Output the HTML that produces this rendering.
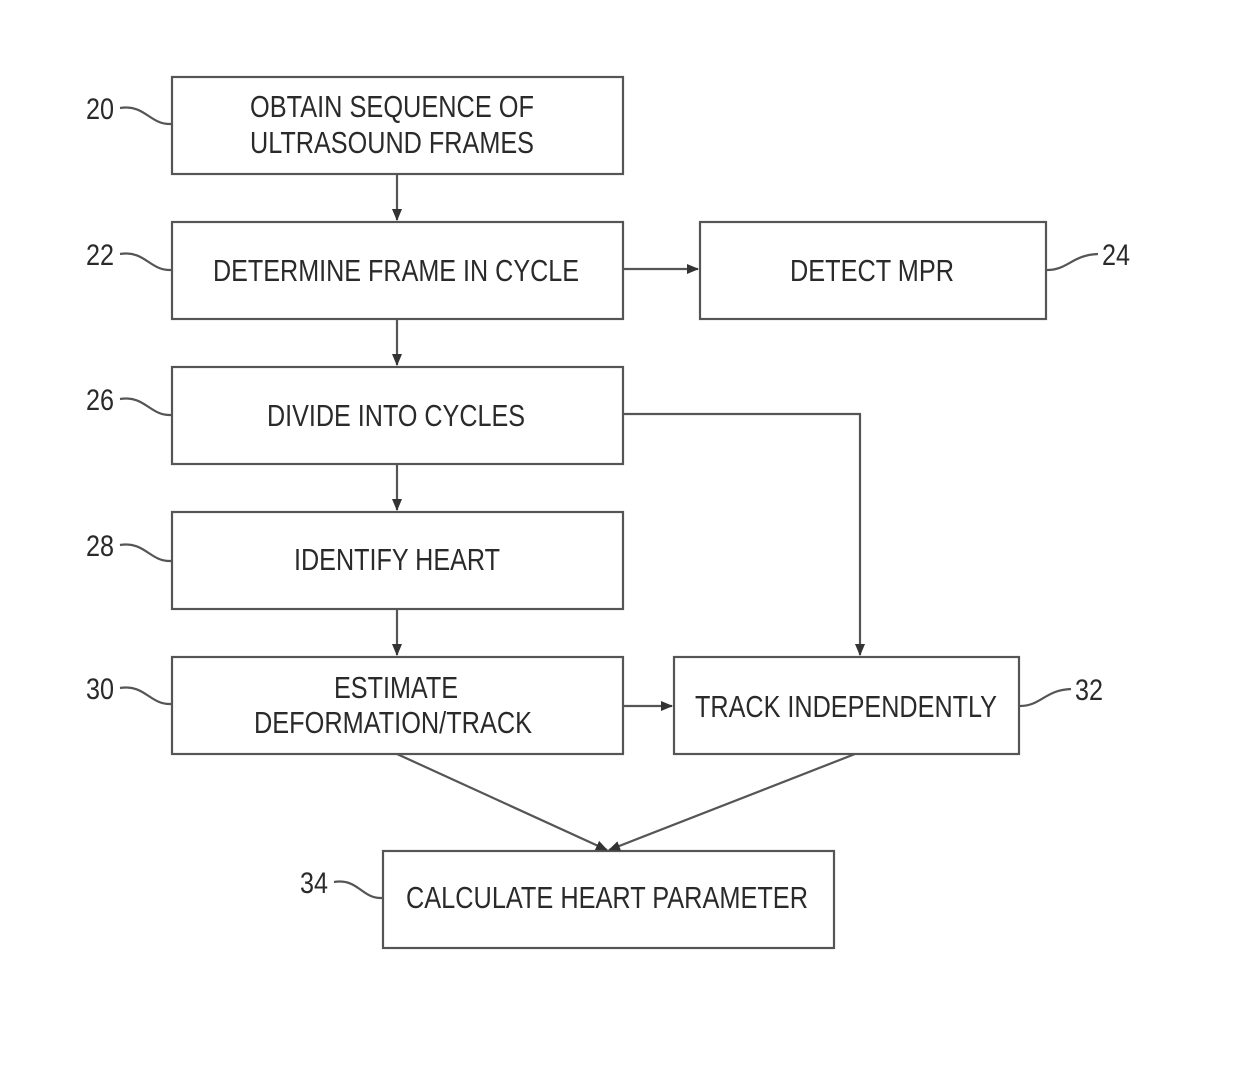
<!DOCTYPE html>
<html><head><meta charset="utf-8"><style>
html,body{margin:0;padding:0;background:#fff;}
svg{display:block;}
text{font-family:"Liberation Sans",sans-serif;fill:#2a2a2a;}
</style></head><body>
<svg width="1240" height="1067" viewBox="0 0 1240 1067" xmlns="http://www.w3.org/2000/svg">
<defs><marker id="a" markerWidth="12" markerHeight="12" refX="11" refY="6" orient="auto" markerUnits="userSpaceOnUse"><path d="M0,1 L12,6 L0,11 Z" fill="#333"/></marker></defs>
<g fill="none" stroke="#555" stroke-width="2.2">
<rect x="172" y="77" width="451" height="97"/>
<rect x="172" y="222" width="451" height="97"/>
<rect x="700" y="222" width="346" height="97"/>
<rect x="172" y="367" width="451" height="97"/>
<rect x="172" y="512" width="451" height="97"/>
<rect x="172" y="657" width="451" height="97"/>
<rect x="674" y="657" width="345" height="97"/>
<rect x="383" y="851" width="451" height="97"/>
<line x1="397" y1="174" x2="397" y2="220" marker-end="url(#a)"/>
<line x1="397" y1="319" x2="397" y2="365" marker-end="url(#a)"/>
<line x1="397" y1="464" x2="397" y2="510" marker-end="url(#a)"/>
<line x1="397" y1="609" x2="397" y2="655" marker-end="url(#a)"/>
<line x1="623" y1="269" x2="698" y2="269" marker-end="url(#a)"/>
<polyline points="623,414 860,414 860,655" marker-end="url(#a)"/>
<line x1="623" y1="706" x2="672" y2="706" marker-end="url(#a)"/>
<line x1="397" y1="754" x2="607" y2="850" marker-end="url(#a)"/>
<line x1="855" y1="754" x2="609" y2="850" marker-end="url(#a)"/>
<path d="M120,108 C145,104 150,125 171,124"/>
<path d="M120,254 C145,250 150,271 171,270"/>
<path d="M120,399 C145,395 150,416 171,415"/>
<path d="M120,545 C145,541 150,562 171,561"/>
<path d="M120,688 C145,684 150,705 171,704"/>
<path d="M334,882 C358,878 362,899 382,898"/>
<path d="M1047,270 C1068,270 1072,255 1098,254"/>
<path d="M1020,706 C1041,706 1045,690 1071,689"/>
</g>
<g font-size="30">
<text x="100" y="119" text-anchor="middle" textLength="28" lengthAdjust="spacingAndGlyphs">20</text>
<text x="100" y="265" text-anchor="middle" textLength="28" lengthAdjust="spacingAndGlyphs">22</text>
<text x="100" y="410" text-anchor="middle" textLength="28" lengthAdjust="spacingAndGlyphs">26</text>
<text x="100" y="556" text-anchor="middle" textLength="28" lengthAdjust="spacingAndGlyphs">28</text>
<text x="100" y="699" text-anchor="middle" textLength="28" lengthAdjust="spacingAndGlyphs">30</text>
<text x="314" y="893" text-anchor="middle" textLength="28" lengthAdjust="spacingAndGlyphs">34</text>
<text x="1116" y="265" text-anchor="middle" textLength="28" lengthAdjust="spacingAndGlyphs">24</text>
<text x="1089" y="700" text-anchor="middle" textLength="28" lengthAdjust="spacingAndGlyphs">32</text>
</g>
<g font-size="31" text-anchor="middle">
<text x="392" y="117" textLength="284" lengthAdjust="spacingAndGlyphs">OBTAIN SEQUENCE OF</text>
<text x="392" y="153" textLength="284" lengthAdjust="spacingAndGlyphs">ULTRASOUND FRAMES</text>
<text x="396" y="281" textLength="366" lengthAdjust="spacingAndGlyphs">DETERMINE FRAME IN CYCLE</text>
<text x="872" y="281" textLength="164" lengthAdjust="spacingAndGlyphs">DETECT MPR</text>
<text x="396" y="426" textLength="258" lengthAdjust="spacingAndGlyphs">DIVIDE INTO CYCLES</text>
<text x="397" y="570" textLength="206" lengthAdjust="spacingAndGlyphs">IDENTIFY HEART</text>
<text x="396" y="698" textLength="124" lengthAdjust="spacingAndGlyphs">ESTIMATE</text>
<text x="393" y="733" textLength="278" lengthAdjust="spacingAndGlyphs">DEFORMATION/TRACK</text>
<text x="846" y="717" textLength="302" lengthAdjust="spacingAndGlyphs">TRACK INDEPENDENTLY</text>
<text x="607" y="908" textLength="402" lengthAdjust="spacingAndGlyphs">CALCULATE HEART PARAMETER</text>
</g>
</svg>
</body></html>
